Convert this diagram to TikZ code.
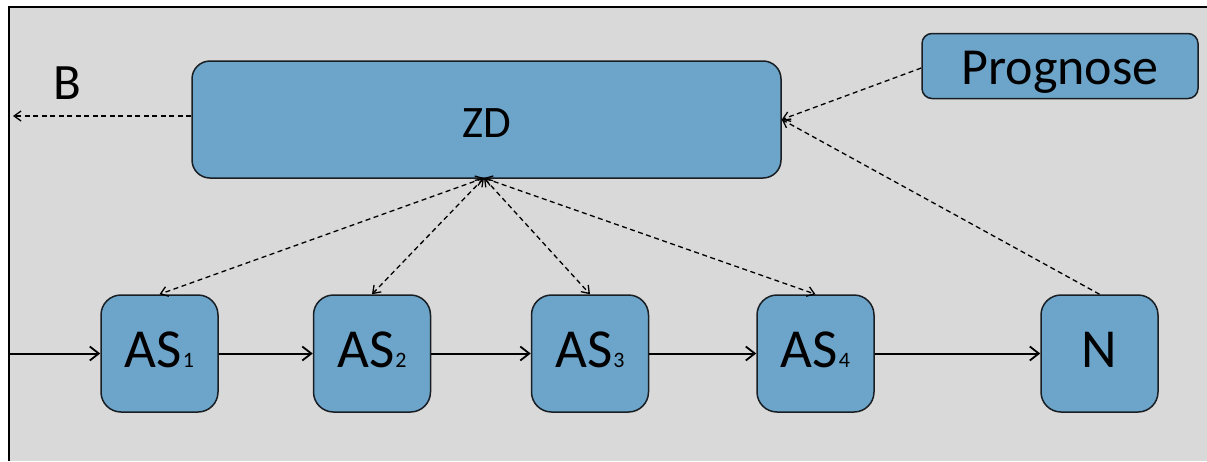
\documentclass[tikz,border=0pt]{standalone}
\usepackage{fontspec}
\setmainfont{Carlito}
\usetikzlibrary{arrows.meta}
\definecolor{panel}{RGB}{217,217,217}
\definecolor{boxblue}{RGB}{108,164,202}
\definecolor{edge}{RGB}{25,30,35}
\newcommand{\fs}[1]{\fontsize{#1}{#1}\selectfont}
\tikzset{
  box/.style={draw=edge, line width=1.5pt, fill=boxblue, rounded corners=#1,
    inner sep=0pt, text depth=0pt},
  stagebox/.style={box=20pt, minimum width=117pt, minimum height=117pt,
    font=\fs{55}, text depth=7pt},
  flow/.style={draw=black, line width=2pt, -{Straight Barb[length=9pt,width=14pt,line width=1.8pt]}},
  info/.style={draw=black, line width=1.3pt, dash pattern=on 5pt off 3.5pt,
    -{Straight Barb[length=7pt,width=10pt,line width=1.3pt]}},
  infoboth/.style={info, {Straight Barb[length=7pt,width=10pt,line width=1.3pt]}-{Straight Barb[length=7pt,width=10pt,line width=1.3pt]}}
}
\newcommand{\sub}[1]{{\fs{22}\kern1pt#1}}
\begin{document}
\begin{tikzpicture}[x=1pt,y=-1pt]
  \useasboundingbox (0,0) rectangle (1207,461);
  % panel
  \fill[panel] (9,7) rectangle (1207,461);
  \draw[line width=1.5pt] (9,461) -- (9,7) -- (1207,7);

  % boxes
  \node[box=18pt, minimum width=589pt, minimum height=117pt, font=\fs{45},
    text height=35pt] (ZD) at (486.5,119.5) {ZD};
  \node[box=10pt, minimum width=276pt, minimum height=65pt, font=\fs{52},
    text height=36.5pt] (P) at (1060,66) {Prognose};
  \node[stagebox] (AS1) at (159.5,353.5) {AS\sub{1}};
  \node[stagebox] (AS2) at (372,353.5) {AS\sub{2}};
  \node[stagebox] (AS3) at (590,353.5) {AS\sub{3}};
  \node[stagebox] (AS4) at (815.5,353.5) {AS\sub{4}};
  \node[stagebox] (N) at (1099.5,353.5) {N};
  \node[font=\fs{51}, inner sep=0pt, text depth=0pt] (B) at (67.5,83.5) {B};

  % material flow
  \coordinate (in) at (9,353.5);
  \draw[flow] (in) -- (AS1.west);
  \draw[flow] (AS1.east) -- (AS2.west);
  \draw[flow] (AS2.east) -- (AS3.west);
  \draw[flow] (AS3.east) -- (AS4.west);
  \draw[flow] (AS4.east) -- (N.west);

  % information flow
  \coordinate (out) at (13,116);
  \draw[info] (ZD.west |- out) -- (out);
  \draw[info] ([yshift=-2pt]P.west) -- (ZD.east);
  \draw[info] (N.north) -- (ZD.east);
  \coordinate (hub) at (484,178);
  \foreach \s in {AS1,AS2,AS3,AS4}
    \draw[infoboth] (hub) -- (\s.north);
\end{tikzpicture}
\end{document}
